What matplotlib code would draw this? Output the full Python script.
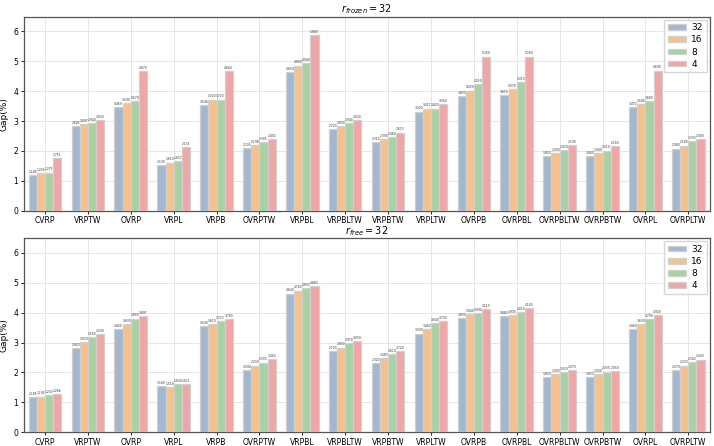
import numpy as np
import matplotlib
matplotlib.use('Agg')
import matplotlib.pyplot as plt

# 任务名称
tasks = ['CVRP', 'VRPTW', 'OVRP', 'VRPL', 'VRPB', 'OVRPTW', 'VRPBL', 'VRPBLTW',
         'VRPBTW', 'VRPLTW', 'OVRPB', 'OVRPBL', 'OVRPBLTW', 'OVRPBTW', 'OVRPL', 'OVRPLTW']
ranks = ['32', '16', '8', '4']

# r_frozen = 32
frozen_32 = [1.186, 2.826, 3.469, 1.530, 3.546, 2.105, 4.650, 2.720, 2.310, 3.320, 3.830, 3.870, 1.830, 1.840, 3.470, 2.080]
frozen_16 = [1.256, 2.897, 3.590, 1.610, 3.720, 2.198, 4.860, 2.830, 2.390, 3.417, 4.020, 4.070, 1.930, 1.940, 3.580, 2.180]
frozen_8 = [1.275, 2.940, 3.670, 1.657, 3.720, 2.305, 4.940, 2.940, 2.460, 3.420, 4.250, 4.310, 2.020, 2.010, 3.680, 2.330]
frozen_4 = [1.751, 3.020, 4.670, 2.131, 4.660, 2.402, 5.880, 3.020, 2.613, 3.560, 5.160, 5.160, 2.190, 2.160, 4.690, 2.400]

# r_free = 32
free_32 = [1.185, 2.820, 3.460, 1.540, 3.540, 2.090, 4.640, 2.720, 2.320, 3.300, 3.830, 3.880, 1.830, 1.830, 3.460, 2.070]
free_16 = [1.192, 3.020, 3.630, 1.518, 3.610, 2.230, 4.740, 2.830, 2.480, 3.460, 3.940, 3.930, 1.930, 1.930, 3.630, 2.230]
free_8 = [1.230, 3.180, 3.800, 1.600, 3.710, 2.330, 4.830, 2.970, 2.610, 3.640, 3.990, 4.010, 2.020, 2.030, 3.790, 2.340]
free_4 = [1.264, 3.290, 3.897, 1.611, 3.780, 2.440, 4.880, 3.050, 2.720, 3.730, 4.110, 4.140, 2.070, 2.050, 3.920, 2.430]

colors = ['#a3b7cf', '#f5c28e', '#a9d1a4', '#efa6a7']

fig, axes = plt.subplots(2, 1, figsize=(7.14, 4.46), dpi=100)
fig.subplots_adjust(left=0.033, right=0.994, top=0.963, bottom=0.031, hspace=0.14)

x = np.arange(len(tasks))
w = 0.19

panels = [
    (axes[0], [frozen_32, frozen_16, frozen_8, frozen_4], r'$r_{frozen} = 32$'),
    (axes[1], [free_32, free_16, free_8, free_4], r'$r_{free} = 32$'),
]

for ax, series, title in panels:
    for k, vals in enumerate(series):
        pos = x + (k - 1.5) * w
        bars = ax.bar(pos, vals, w, color=colors[k], edgecolor='#d0d0d0',
                      linewidth=0.9, label=ranks[k], zorder=3)
        for b, v in zip(bars, vals):
            ax.text(b.get_x() + b.get_width() / 2, v + 0.04, '%.3f' % v,
                    ha='center', va='bottom', fontsize=2.2, color='#333333', zorder=4)
    ax.set_xlim(-0.5, len(tasks) - 0.5)
    ax.set_ylim(0, 6.5)
    ax.set_xticks(x)
    ax.set_xticklabels(tasks, fontsize=5.5)
    ax.set_yticks(range(7))
    ax.tick_params(axis='y', labelsize=5.5)
    ax.tick_params(length=2, width=0.6, pad=2)
    ax.set_ylabel('Gap(%)', fontsize=6.5, labelpad=3)
    ax.set_title(title, fontsize=7, pad=3)
    ax.grid(True, color='#e6e6e6', linewidth=0.7, zorder=0)
    for s in ax.spines.values():
        s.set_color('#555555')
        s.set_linewidth(0.9)
    ax.legend(loc='upper right', fontsize=6.5, frameon=True, fancybox=False,
              edgecolor='#cccccc', handlelength=2.0, handleheight=0.6,
              handletextpad=0.6, labelspacing=0.35, borderpad=0.4,
              borderaxespad=0.35)

fig.savefig('out.png', dpi=100)
